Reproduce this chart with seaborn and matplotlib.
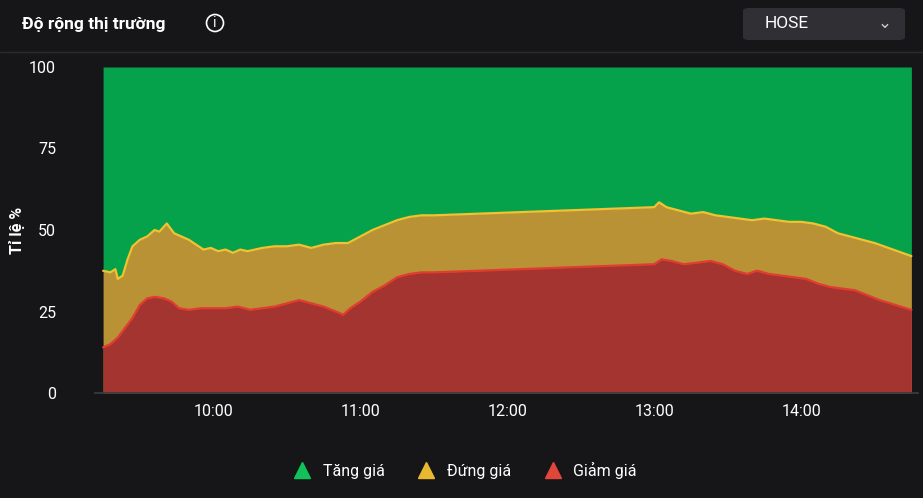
import matplotlib
matplotlib.use("Agg")
import matplotlib.pyplot as plt
import seaborn as sns
import numpy as np
from matplotlib.lines import Line2D
from matplotlib.patches import FancyBboxPatch, Circle

sns.set_theme(style="dark")
plt.rcParams['font.family'] = ['Roboto', 'DejaVu Sans']

def hm(s):
    h, m = s.split(":")
    return int(h) * 60 + int(m)

top_times = ["9:15","9:18","9:20","9:21","9:23","9:25","9:27","9:30","9:33","9:36","9:38","9:41","9:44","9:47","9:50","9:53","9:56","9:59","10:02","10:05","10:08","10:11","10:14","10:17","10:20","10:25","10:30","10:35","10:40","10:45","10:50","10:55","11:00","11:05","11:10","11:15","11:20","11:25","11:30","13:00","13:02","13:05","13:10","13:15","13:20","13:25","13:30","13:35","13:40","13:45","13:50","13:55","14:00","14:05","14:10","14:15","14:20","14:25","14:30","14:45"]
top_vals = [37.5,37,38,35,36,41,45,47,48,50,49.5,52,49,48,47,45.5,44,44.5,43.5,44,43,44,43.5,44,44.5,45,45,45.5,44.5,45.5,46,46,48,50,51.5,53,54,54.5,54.5,57,58.5,57,56,55,55.5,54.5,54,53.5,53,53.5,53,52.5,52.5,52,51,49,48,47,46,42]

red_times = ["9:15","9:18","9:21","9:24","9:27","9:30","9:33","9:36","9:40","9:43","9:46","9:50","9:55","10:00","10:05","10:10","10:15","10:20","10:25","10:30","10:35","10:40","10:45","10:50","10:53","10:56","11:00","11:05","11:10","11:15","11:20","11:25","11:30","13:00","13:03","13:07","13:12","13:18","13:23","13:28","13:33","13:38","13:42","13:47","13:52","13:57","14:02","14:07","14:12","14:17","14:22","14:27","14:32","14:45"]
red_vals = [14,15,17,20,23,27,29,29.5,29,28,26,25.5,26,26,26,26.5,25.5,26,26.5,27.5,28.5,27.5,26.5,25,24,26,28,31,33,35.5,36.5,37,37,39.5,41,40.5,39.5,40,40.5,39.5,37.5,36.5,37.5,36.5,36,35.5,35,33.5,32.5,32,31.5,30,28.5,25.5]

tick_labels = ["10:00", "11:00", "12:00", "13:00", "14:00"]
legend_labels = ["Tăng giá", "Đứng giá", "Giảm giá"]

BG = "#161618"
GREEN = "#05A24B"
YFILL, YLINE = "#B89235", "#F2C232"
RFILL, RLINE = "#A33430", "#E23B30"

tx = np.array([hm(t) for t in top_times])
rx = np.array([hm(t) for t in red_times])

fig = plt.figure(figsize=(9.23, 4.98), dpi=100, facecolor=BG)
ax = fig.add_axes([95/923, 105/498, 823/923, 326/498])
ax.set_facecolor(BG)

ax.fill_between(tx, top_vals, 100, color=GREEN, lw=0)
ax.fill_between(tx, 0, top_vals, color=YFILL, lw=0)
sns.lineplot(x=tx, y=top_vals, ax=ax, color=YLINE, lw=1.6)
ax.fill_between(rx, 0, red_vals, color=RFILL, lw=0)
sns.lineplot(x=rx, y=red_vals, ax=ax, color=RLINE, lw=1.6)

ax.set_xlim(hm("9:15") - 3.3, hm("9:15") - 3.3 + 336)
ax.set_ylim(0, 100)
ax.set_xticks([hm(t) for t in tick_labels])
ax.set_xticklabels(tick_labels)
ax.set_yticks([0, 25, 50, 75, 100])
ax.tick_params(colors="white", labelsize=11.5, length=0, pad=8)
ax.tick_params(axis="y", pad=28)
for s in ["top", "right", "left"]:
    ax.spines[s].set_visible(False)
ax.spines["bottom"].set_color("#3a3a40")
ax.grid(False)
ax.set_ylabel("Tỉ lệ %", color="white", fontsize=11.5, fontweight="bold", labelpad=10)
ax.yaxis.set_label_coords(-70/823, 0.5)

# header
fig.text(22/923, 1 - 25/498, "Độ rộng thị trường", color="white", fontsize=12.5,
         fontweight="bold", va="center")
fig.patches.append(Circle((215/923 * 923, 498 - 23), 8.5, transform=None, fill=False,
                          ec="white", lw=1.2, figure=fig))
fig.text(215/923, 1 - 23/498, "i", color="white", fontsize=10, ha="center", va="center")
fig.patches.append(FancyBboxPatch((743/923, 1 - 40/498), 162/923, 32/498,
                   boxstyle="round,pad=0,rounding_size=0.006", transform=fig.transFigure,
                   fc="#2F2F34", ec="none", figure=fig))
fig.text(765/923, 1 - 24/498, "HOSE", color="white", fontsize=12.5, va="center")
fig.text(885/923, 1 - 24/498, "⌄", color="#cccccc", fontsize=12, ha="center", va="center")
fig.add_artist(Line2D([0, 1], [1 - 52/498] * 2, color="#2c2c30", lw=1))

handles = [Line2D([], [], marker="^", ms=11, ls="none", mfc=c, mec=c)
           for c in ["#11C15A", "#E8B830", "#E0463A"]]
fig.legend(handles, legend_labels, loc="center", bbox_to_anchor=(0.5, 1 - 470/498),
           ncol=3, frameon=False, labelcolor="white", fontsize=11.5,
           handletextpad=0.3, columnspacing=1.6)

fig.savefig("out.png", dpi=100, facecolor=BG)
